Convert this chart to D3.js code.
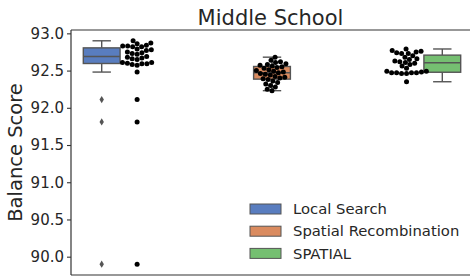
<!DOCTYPE html>
<html>
<head>
<meta charset="utf-8">
<script src="https://cdn.jsdelivr.net/npm/d3@7"></script>
<style>
  html, body { margin: 0; padding: 0; background: #fff; }
  svg { display: block; font-family: 'DejaVu Sans', sans-serif; }
</style>
</head>
<body>
<div id="chart"></div>
<script>
// data
const methods = ["Local Search", "Spatial Recombination", "SPATIAL"];
const localSearch = [89.90, 91.81, 92.11, 92.48, 92.57, 92.58, 92.59, 92.59, 92.60, 92.61,
  92.61, 92.65, 92.66, 92.67, 92.68, 92.69, 92.72, 92.73, 92.74, 92.75,
  92.77, 92.78, 92.79, 92.82, 92.82, 92.83, 92.83, 92.84, 92.86, 92.87, 92.90];
const spatialRecombination = [92.23, 92.25, 92.28, 92.30, 92.32, 92.34, 92.36, 92.38, 92.39, 92.40,
  92.41, 92.42, 92.44, 92.45, 92.46, 92.47, 92.48, 92.49, 92.50, 92.51,
  92.53, 92.54, 92.55, 92.56, 92.57, 92.58, 92.59, 92.61, 92.62, 92.64, 92.68];
const spatial = [92.35, 92.46, 92.46, 92.47, 92.47, 92.47, 92.47, 92.48, 92.49, 92.49,
  92.53, 92.56, 92.58, 92.60, 92.61, 92.62, 92.63, 92.65, 92.66, 92.68,
  92.70, 92.73, 92.73, 92.74, 92.75, 92.76, 92.77, 92.79];
const yTicks = [90.0, 90.5, 91.0, 91.5, 92.0, 92.5, 93.0];
const series = [localSearch, spatialRecombination, spatial];

// seaborn "muted", desaturated like boxplot does
const palette = ["#4878d0", "#ee854a", "#6acc64"].map(c => {
  const h = d3.hsl(c);
  h.s *= 0.75;
  return h.formatHex();
});

const W = 470, H = 279;
const plot = { left: 71, top: 30, bottom: 275, right: 470 };
const edgeGray = "#555555";

const svg = d3.select("#chart").append("svg")
    .attr("width", W)
    .attr("height", H);

const y = d3.scaleLinear().domain([89.754, 93.045]).range([plot.bottom, plot.top]);
const x = d3.scaleLinear().domain([0, 2]).range([101.7, 442.3]);
const boxHalf = 0.108;            // half box width in x units
const swarmShift = [0.208, 0, -0.21]; // where the swarm sits relative to the box
const dotR = 2.5;

// box stats, matplotlib style (linear quantiles, 1.5 IQR whiskers)
function boxStats(values) {
  const v = values.slice().sort(d3.ascending);
  const q1 = d3.quantile(v, 0.25), med = d3.quantile(v, 0.5), q3 = d3.quantile(v, 0.75);
  const iqr = q3 - q1;
  const inside = v.filter(d => d >= q1 - 1.5 * iqr && d <= q3 + 1.5 * iqr);
  return {
    q1, med, q3,
    lo: d3.min(inside), hi: d3.max(inside),
    fliers: v.filter(d => d < q1 - 1.5 * iqr || d > q3 + 1.5 * iqr)
  };
}

// beeswarm: place each point as close to the centre as it can go
function swarm(values, r) {
  const d = 2 * r;
  const placed = [];
  values.slice().sort(d3.ascending).forEach(v => {
    const py = y(v);
    const near = placed.filter(p => Math.abs(p.y - py) < d);
    const cands = [0];
    near.forEach(p => {
      const dx = Math.sqrt(d * d - (p.y - py) ** 2);
      cands.push(p.dx + dx, p.dx - dx);
    });
    cands.sort((a, b) => Math.abs(a) - Math.abs(b) || a - b);
    const ok = cands.find(c => near.every(p => (p.dx - c) ** 2 + (p.y - py) ** 2 >= d * d - 0.01));
    placed.push({ v, y: py, dx: ok });
  });
  return placed;
}

// axes frame
const frame = svg.append("g").attr("stroke", "#333").attr("stroke-width", 1.2);
frame.append("line").attr("x1", plot.left).attr("x2", plot.left).attr("y1", plot.top).attr("y2", plot.bottom);
frame.append("line").attr("x1", plot.left).attr("x2", plot.right).attr("y1", plot.top).attr("y2", plot.top);
frame.append("line").attr("x1", plot.left).attr("x2", plot.right).attr("y1", plot.bottom).attr("y2", plot.bottom);

const yAxis = svg.append("g")
    .attr("transform", `translate(${plot.left},0)`)
    .call(d3.axisLeft(y).tickValues(yTicks).tickFormat(d3.format(".1f")).tickSize(4).tickPadding(3));
yAxis.select(".domain").remove();
yAxis.selectAll(".tick line").attr("stroke", "#333").attr("stroke-width", 1.1);
yAxis.selectAll(".tick text")
    .attr("fill", "#262626")
    .style("font-size", "15px")
    .style("font-family", "'DejaVu Sans', sans-serif");

// boxes
series.forEach((vals, i) => {
  const s = boxStats(vals);
  const g = svg.append("g").attr("stroke", edgeGray).attr("stroke-width", 1.4);
  const cx = x(i), bw = x(i + boxHalf) - x(i);
  g.append("line").attr("x1", cx).attr("x2", cx).attr("y1", y(s.q3)).attr("y2", y(s.hi));
  g.append("line").attr("x1", cx).attr("x2", cx).attr("y1", y(s.q1)).attr("y2", y(s.lo));
  g.append("line").attr("x1", cx - bw / 2).attr("x2", cx + bw / 2).attr("y1", y(s.hi)).attr("y2", y(s.hi));
  g.append("line").attr("x1", cx - bw / 2).attr("x2", cx + bw / 2).attr("y1", y(s.lo)).attr("y2", y(s.lo));
  g.append("rect")
      .attr("x", cx - bw).attr("width", 2 * bw)
      .attr("y", y(s.q3)).attr("height", y(s.q1) - y(s.q3))
      .attr("fill", palette[i]);
  g.append("line").attr("x1", cx - bw).attr("x2", cx + bw).attr("y1", y(s.med)).attr("y2", y(s.med));
  g.selectAll("path.flier")
    .data(s.fliers)
    .join("path")
      .attr("class", "flier")
      .attr("d", d => {
        const fy = y(d);
        return `M${cx},${fy - 3.6}L${cx + 2.2},${fy}L${cx},${fy + 3.6}L${cx - 2.2},${fy}Z`;
      })
      .attr("fill", edgeGray)
      .attr("stroke", "none");
});

// swarms
series.forEach((vals, i) => {
  const cx = x(i + swarmShift[i]);
  svg.append("g")
    .selectAll("circle")
    .data(swarm(vals, dotR))
    .join("circle")
      .attr("cx", d => cx + d.dx)
      .attr("cy", d => d.y)
      .attr("r", dotR)
      .attr("fill", "#000");
});

// title + y label
svg.append("text")
    .attr("x", (plot.left + plot.right) / 2)
    .attr("y", 25)
    .attr("text-anchor", "middle")
    .attr("fill", "#262626")
    .style("font-size", "21px")
    .text("Middle School");

svg.append("text")
    .attr("transform", `translate(22,${(plot.top + plot.bottom) / 2}) rotate(-90)`)
    .attr("text-anchor", "middle")
    .attr("fill", "#262626")
    .style("font-size", "19.5px")
    .text("Balance Score");

// legend
const legend = svg.append("g").attr("transform", "translate(250,209)");
methods.forEach((m, i) => {
  const row = legend.append("g").attr("transform", `translate(0,${i * 22.2})`);
  row.append("rect")
      .attr("x", 0).attr("y", -5).attr("width", 31).attr("height", 10)
      .attr("fill", palette[i])
      .attr("stroke", edgeGray)
      .attr("stroke-width", 1);
  row.append("text")
      .attr("x", 43).attr("y", 0)
      .attr("dy", "0.35em")
      .attr("fill", "#262626")
      .style("font-size", "14.8px")
      .text(m);
});
</script>
</body>
</html>
